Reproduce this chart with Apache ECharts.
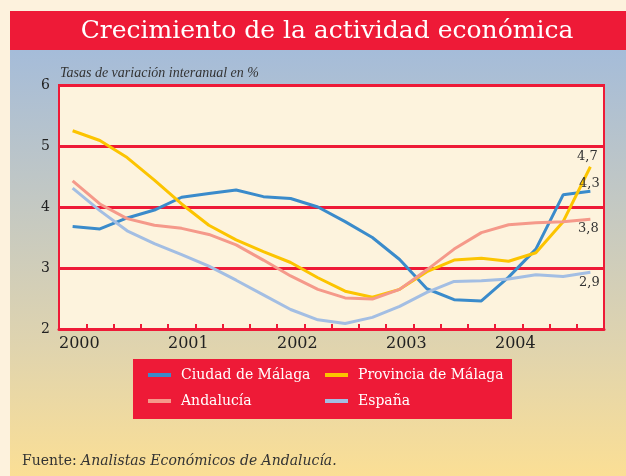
<!DOCTYPE html>
<html>
<head>
<meta charset="utf-8">
<script src="https://cdn.jsdelivr.net/npm/echarts@6/dist/echarts.min.js"></script>
<style>
html,body{margin:0;padding:0;background:#fdf2dd;}
#chart{width:626px;height:476px;}
</style>
</head>
<body>
<div id="chart"></div>
<script>
//颜色
var rojo = '#ee1a37';
var serif = 'DejaVu Serif';

//trimestres 2000-2004, tasas de variación interanual
var series = {
	'Ciudad de Málaga': [3.68,3.64,3.82,3.95,4.16,4.22,4.28,4.17,4.14,4.0,3.76,3.5,3.14,2.66,2.48,2.46,2.85,3.31,4.2,4.26],
	'Provincia de Málaga': [5.25,5.09,4.81,4.44,4.05,3.7,3.46,3.27,3.09,2.84,2.62,2.52,2.65,2.94,3.13,3.16,3.11,3.25,3.76,4.66],
	'Andalucía': [4.43,4.05,3.81,3.7,3.65,3.55,3.38,3.13,2.87,2.65,2.51,2.49,2.65,2.97,3.31,3.58,3.71,3.74,3.76,3.8],
	'España': [4.31,3.94,3.61,3.4,3.22,3.03,2.8,2.56,2.32,2.15,2.09,2.19,2.37,2.6,2.78,2.79,2.82,2.89,2.86,2.93]
};
var colores = {
	'Ciudad de Málaga': '#3a8bcb',
	'Provincia de Málaga': '#fcc400',
	'Andalucía': '#f5998a',
	'España': '#a3bee3'
};
//etiqueta final (desplazamiento en px)
var finales = {
	'Ciudad de Málaga': {text:'4,3', offset:[-1,-8]},
	'Provincia de Málaga': {text:'4,7', offset:[-3,-10]},
	'Andalucía': {text:'3,8', offset:[-2,9]},
	'España': {text:'2,9', offset:[-1,10]}
};

var seriesList = [];
var names = Object.keys(series);
names.forEach(function(name){
	var data = series[name].map(function(v,i){
		return [i+0.5, v];
	});
	seriesList.push({
		name:name,
		type:'line',
		symbol:'none',
		data:data,
		lineStyle:{color:colores[name], width:3},
		itemStyle:{color:colores[name]},
		z:3
	});
});

var chart = echarts.init(document.getElementById('chart'));
var fondo = [
	{
		type:'rect', z:-10,
		shape:{x:10, y:50, width:616, height:426},
		style:{
			fill:{
				type:'linear', x:0, y:0, x2:0, y2:1,
				colorStops:[
					{offset:0, color:'#a5bcd9'},
					{offset:0.7, color:'#e0d4ae'},
					{offset:1, color:'#fbdf95'}
				]
			}
		}
	},
	{
		type:'rect', z:-10,
		shape:{x:10, y:11, width:616, height:39},
		style:{fill:rojo}
	},
	{
		type:'rect', z:-5,
		shape:{x:133, y:359, width:379, height:60},
		style:{fill:rojo}
	}
];
var option = {
	backgroundColor:'#fdf2dd',
	animation:false,
	graphic:fondo,
	title:[
		{
			text:'Crecimiento de la actividad económica',
			left:322, top:14, textAlign:'center',
			textStyle:{color:'#fff', fontFamily:serif, fontWeight:'normal', fontSize:25}
		},
		{
			text:'Tasas de variación interanual en %',
			left:60, top:66, padding:0,
			textStyle:{color:'#333', fontFamily:'Liberation Serif', fontStyle:'italic', fontWeight:'normal', fontSize:14}
		},
		{
			text:'Fuente: {i|Analistas Económicos de Andalucía.}',
			left:22, top:454, padding:0,
			textStyle:{
				color:'#333', fontFamily:serif, fontWeight:'normal', fontSize:14,
				rich:{i:{fontFamily:serif, fontStyle:'italic', fontSize:14, color:'#333'}}
			}
		}
	],
	legend:[
		{
			data:['Ciudad de Málaga','Andalucía'],
			orient:'vertical', left:143, top:363,
			itemWidth:23, itemHeight:4, itemGap:12, icon:'rect',
			textStyle:{color:'#fff', fontFamily:serif, fontSize:14, padding:[0,0,0,5]}
		},
		{
			data:['Provincia de Málaga','España'],
			orient:'vertical', left:320, top:363,
			itemWidth:23, itemHeight:4, itemGap:12, icon:'rect',
			textStyle:{color:'#fff', fontFamily:serif, fontSize:14, padding:[0,0,0,5]}
		}
	],
	grid:{
		left:59, right:22, top:85, bottom:147,
		show:true, backgroundColor:'#fdf3dd', borderColor:rojo, borderWidth:2
	},
	xAxis:{
		type:'value', min:0, max:20, interval:1,
		axisLine:{show:true, lineStyle:{color:rojo, width:3}},
		axisTick:{show:true, inside:true, length:5, lineStyle:{color:rojo, width:2}},
		splitLine:{show:false},
		axisLabel:{
			align:'left', margin:7,
			color:'#222', fontFamily:serif, fontSize:16,
			formatter:function(v){
				return (v%4==0 && v<20) ? String(2000+v/4) : '';
			}
		}
	},
	yAxis:{
		type:'value', min:2, max:6, interval:1,
		axisLine:{show:true, lineStyle:{color:rojo, width:2}},
		axisTick:{show:false},
		splitLine:{show:true, lineStyle:{color:rojo, width:3}},
		axisLabel:{color:'#222', fontFamily:serif, fontSize:14, margin:9}
	},
	series:seriesList
};
chart.setOption(option);

//etiquetas al final de cada serie, posición por la escala del gráfico
var etiquetas = names.map(function(name){
	var vals = series[name];
	var n = vals.length - 1;
	var p = chart.convertToPixel({gridIndex:0}, [n+0.5, vals[n]]);
	return {
		type:'text', z:100,
		x:p[0] + finales[name].offset[0],
		y:p[1] + finales[name].offset[1],
		style:{
			text:finales[name].text,
			fill:'#333',
			font:'13px "DejaVu Serif"',
			align:'center',
			verticalAlign:'middle'
		}
	};
});
chart.setOption({graphic:fondo.concat(etiquetas)});
</script>
</body>
</html>
